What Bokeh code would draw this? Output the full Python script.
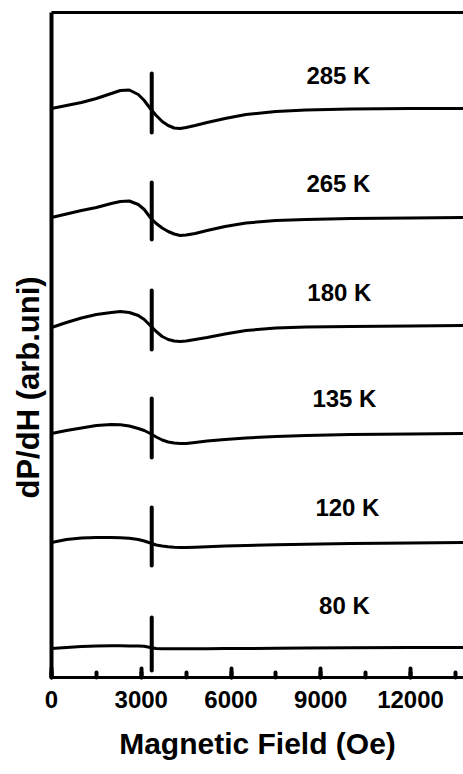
from bokeh.plotting import figure
from bokeh.models import Range1d, LinearAxis, SingleIntervalTicker, FixedTicker, Title
from bokeh.core.properties import value
from bokeh.embed import file_html
from bokeh.resources import INLINE

# Magnetic field sampling (Oe)
field = [0, 500, 1000, 1500, 2000, 2300, 2600, 2900, 3100, 3300, 3500, 3700, 3900,
         4100, 4300, 4500, 4800, 5200, 5800, 6500, 7500, 8500, 10000, 12000, 13770]

# dP/dH (arb. units, stacked with offsets)
s285 = [569, 572, 575, 579, 584, 587, 587.5, 583, 577, 569, 562, 556, 552, 549.5, 549,
        550, 552, 555, 559, 563, 566, 567.5, 568.5, 569, 569]
s265 = [460, 463.5, 467, 470, 474, 476, 476.5, 473, 468, 460, 454, 449.5, 446, 443.5, 442,
        442.5, 444, 447, 451, 454.5, 457, 458, 459, 459.5, 460]
s180 = [350, 355, 359.5, 363, 365, 366, 365, 362, 358, 352, 346, 341, 338, 336.5, 336,
        336.5, 338, 340, 343.5, 347, 349.5, 350.5, 351, 351.5, 352]
s135 = [244, 247, 249.5, 252, 253, 252.7, 251.5, 249, 247, 244, 240.5, 237.5, 235.5, 234.5, 234,
        234, 235, 236.5, 238, 239.5, 241, 242, 243, 243.5, 244]
s120 = [135, 138, 139.5, 140, 140, 139.7, 139.3, 138, 136.5, 134.5, 132.5, 131.5, 130.7, 130.2, 130,
        130, 130.2, 130.7, 131.5, 132, 132.7, 133.3, 134, 134.5, 135]
s80 = [29, 30, 31, 31.5, 31.7, 31.7, 31.6, 31.4, 31.2, 30, 29, 28.7, 28.7, 28.7, 28.7,
       28.7, 28.8, 28.8, 29, 29, 29.2, 29.4, 29.7, 29.9, 30]
spectra = [s285, s265, s180, s135, s120, s80]

# sharp reference line (g-marker) at ~3350 Oe
spike_field = [3350, 3350, 3350, 3350, 3350, 3350]
spike_top = [604, 495, 387, 279, 170, 60]
spike_bottom = [545, 438, 328, 220, 112, 7]

# temperature labels
temps = ["285 K", "265 K", "180 K", "135 K", "120 K", "80 K"]
label_x = [9590, 9590, 9620, 9790, 9890, 9790]
label_y = [602, 494, 385, 279, 170, 72]

FONT = "Liberation Sans"

p = figure(width=463, height=774, output_backend="svg", toolbar_location=None,
           x_range=Range1d(0, 13770), y_range=Range1d(0, 665),
           min_border_left=51, min_border_right=0, min_border_top=12, min_border_bottom=97)
p.outline_line_color = None
p.xgrid.visible = False
p.ygrid.visible = False
p.background_fill_color = "white"

for s in spectra:
    p.line(field, s, line_color="black", line_width=3, line_join="round")

p.segment(x0=spike_field, y0=spike_bottom, x1=spike_field, y1=spike_top,
          line_color="black", line_width=4, line_cap="round")

p.text(x=label_x, y=label_y, text=temps, text_font=value(FONT), text_font_style="bold",
       text_font_size="24px", text_align="center", text_baseline="middle", text_color="black")

# x axis
xa = p.xaxis[0]
xa.ticker = SingleIntervalTicker(interval=3000, num_minor_ticks=2)
xa.axis_line_width = 3
xa.axis_line_color = "black"
xa.major_tick_in = 9
xa.major_tick_out = 0
xa.minor_tick_in = 5
xa.minor_tick_out = 0
xa.major_tick_line_width = 4
xa.minor_tick_line_width = 4
xa.major_tick_line_cap = "round"
xa.minor_tick_line_cap = "round"
xa.major_label_text_font = FONT
xa.major_label_text_font_style = "bold"
xa.major_label_text_font_size = "24px"
xa.major_label_text_color = "black"
xa.major_label_standoff = 13
xa.axis_label = "Magnetic Field (Oe)"
xa.axis_label_text_font = FONT
xa.axis_label_text_font_style = "bold"
xa.axis_label_text_font_size = "30px"
xa.axis_label_text_color = "black"
xa.axis_label_standoff = 16

# y axis (no ticks)
ya = p.yaxis[0]
ya.ticker = FixedTicker(ticks=[])
ya.axis_line_width = 4
ya.axis_line_color = "black"
ya.major_tick_line_color = None
ya.minor_tick_line_color = None
ya.major_label_text_font_size = "0px"

# top frame line
top = LinearAxis(ticker=FixedTicker(ticks=[]), axis_line_width=3, axis_line_color="black",
                 major_tick_line_color=None, minor_tick_line_color=None,
                 major_label_text_font_size="0px")
p.add_layout(top, "above")

ytitle = Title(text="dP/dH (arb.uni)", align="left", offset=179,
               text_font=FONT, text_font_style="bold", text_font_size="31px",
               text_color="black", standoff=11)
p.add_layout(ytitle, "left")

open("out.html", "w").write(file_html(p, INLINE))
